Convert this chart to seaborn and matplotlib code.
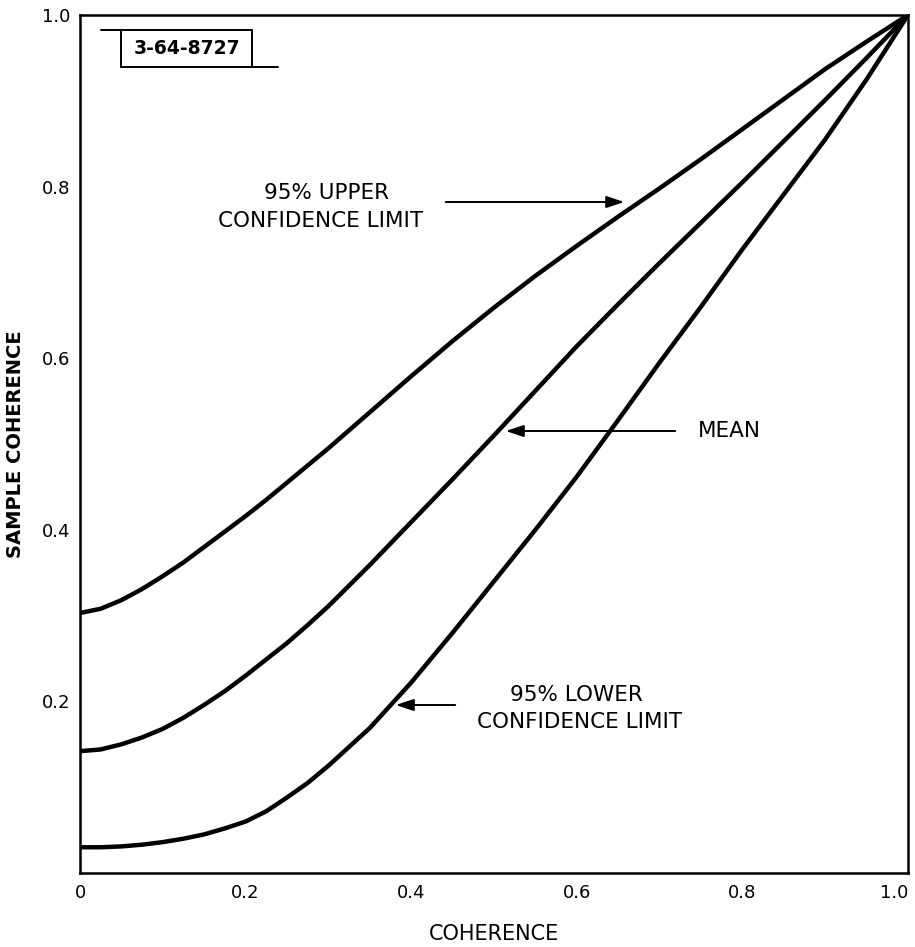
import numpy as np
import pandas as pd
import matplotlib
matplotlib.use("Agg")
import matplotlib.pyplot as plt
import seaborn as sns
from matplotlib.lines import Line2D

coherence = [0.000, 0.025, 0.050, 0.075, 0.100, 0.125, 0.150, 0.175, 0.200, 0.225,
             0.250, 0.275, 0.300, 0.350, 0.400, 0.450, 0.500, 0.550, 0.600, 0.650,
             0.700, 0.750, 0.800, 0.850, 0.900, 0.950, 1.000]
upper = [0.303, 0.308, 0.318, 0.331, 0.346, 0.362, 0.380, 0.398, 0.416, 0.435,
         0.455, 0.475, 0.495, 0.537, 0.579, 0.620, 0.659, 0.696, 0.731, 0.765,
         0.798, 0.832, 0.867, 0.902, 0.937, 0.969, 1.0]
mean = [0.142, 0.144, 0.150, 0.158, 0.168, 0.181, 0.196, 0.212, 0.230, 0.249,
        0.268, 0.289, 0.311, 0.359, 0.409, 0.459, 0.510, 0.562, 0.614, 0.663,
        0.711, 0.758, 0.805, 0.853, 0.901, 0.950, 1.0]
lower = [0.030, 0.030, 0.031, 0.033, 0.036, 0.040, 0.045, 0.052, 0.060, 0.072,
         0.088, 0.105, 0.125, 0.169, 0.222, 0.280, 0.340, 0.400, 0.462, 0.528,
         0.595, 0.660, 0.727, 0.791, 0.855, 0.925, 1.0]

xticks = [0, 0.2, 0.4, 0.6, 0.8, 1.0]
xticklabels = ["0", "0.2", "0.4", "0.6", "0.8", "1.0"]
yticks = [0.2, 0.4, 0.6, 0.8, 1.0]
yticklabels = ["0.2", "0.4", "0.6", "0.8", "1.0"]

df = pd.DataFrame({
    "coherence": coherence * 3,
    "sample": upper + mean + lower,
    "series": ["upper"] * len(upper) + ["mean"] * len(mean) + ["lower"] * len(lower),
})

sns.set_theme(style="white")
plt.rcParams["font.family"] = ["DejaVu Sans"]

fig = plt.figure(figsize=(9.15, 9.47), dpi=100)
ax = fig.add_axes([80 / 915, 1 - 873 / 947, 828 / 915, 858 / 947])

sns.lineplot(data=df, x="coherence", y="sample", hue="series",
             palette={"upper": "black", "mean": "black", "lower": "black"},
             linewidth=3.2, legend=False, ax=ax, sort=True)

ax.set_xlim(0, 1.0)
ax.set_ylim(0, 1.0)
ax.set_xticks(xticks)
ax.set_xticklabels(xticklabels)
ax.set_yticks(yticks)
ax.set_yticklabels(yticklabels)
ax.tick_params(axis="both", direction="in", length=6, width=1.4, colors="black",
               labelsize=13, pad=7)
ax.tick_params(axis="x", pad=8)
for lab in ax.get_xticklabels():
    if lab.get_text() == "1.0":
        lab.set_horizontalalignment("right")
        lab.set_x(1.0)
for s in ax.spines.values():
    s.set_visible(True)
    s.set_color("black")
    s.set_linewidth(1.8)

ax.set_xlabel("COHERENCE", fontsize=15, labelpad=16, color="black")
ax.set_ylabel("SAMPLE COHERENCE", fontsize=14, fontweight="bold", labelpad=12, color="black")

def px(x, y):
    return (x / 915, 1 - y / 947)

txt = dict(fontsize=15.5, color="black", ha="center", va="center")
fig.text(*px(327, 193), "95% UPPER", **txt)
fig.text(*px(321, 221), "CONFIDENCE LIMIT", **txt)
fig.text(*px(729, 431), "MEAN", **txt)
fig.text(*px(576, 695), "95% LOWER", **txt)
fig.text(*px(580, 722), "CONFIDENCE LIMIT", **txt)

arrow = dict(arrowstyle="-|>,head_length=0.9,head_width=0.3", color="black", lw=1.4)
ax.annotate("", xy=px(627, 202), xytext=px(443, 202), xycoords="figure fraction",
            textcoords="figure fraction", arrowprops=arrow)
ax.annotate("", xy=px(503, 431), xytext=px(678, 431), xycoords="figure fraction",
            textcoords="figure fraction", arrowprops=arrow)
ax.annotate("", xy=px(393, 705), xytext=px(458, 705), xycoords="figure fraction",
            textcoords="figure fraction", arrowprops=arrow)

# identification box
for (xa, ya), (xb, yb) in [((101, 30), (252, 30)), ((121, 30), (121, 67)),
                           ((252, 30), (252, 67)), ((121, 67), (278, 67))]:
    p1, p2 = px(xa, ya), px(xb, yb)
    fig.add_artist(Line2D([p1[0], p2[0]], [p1[1], p2[1]], color="black", lw=1.4,
                          transform=fig.transFigure))
fig.text(*px(187, 49), "3-64-8727", fontsize=13.5, fontweight="bold", color="black",
         ha="center", va="center")

fig.savefig("out.png", dpi=100, facecolor="white")
